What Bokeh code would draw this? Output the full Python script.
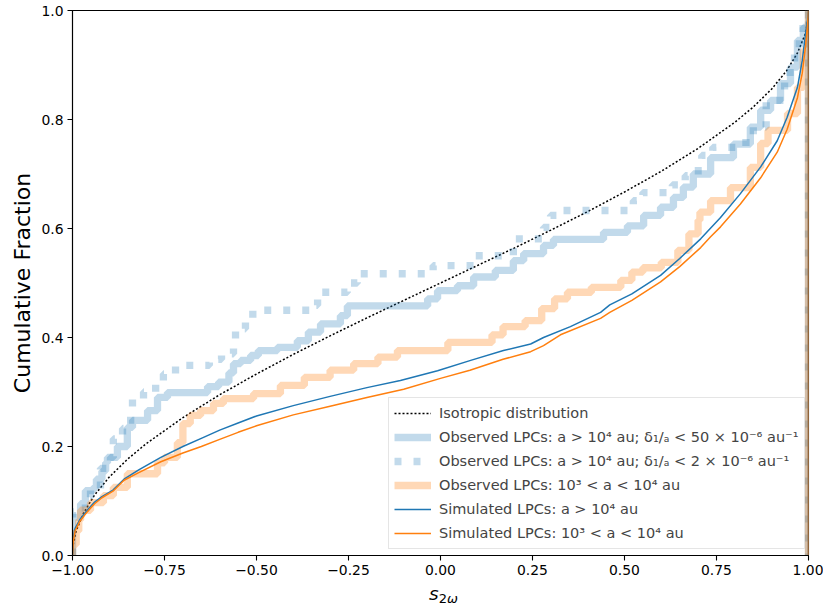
from bokeh.plotting import figure
from bokeh.models import Legend, LegendItem, FixedTicker, Div
from bokeh.layouts import column
from bokeh.embed import file_html
from bokeh.resources import INLINE

# ---------------- data ----------------
x_ticks = [-1.0, -0.75, -0.5, -0.25, 0.0, 0.25, 0.5, 0.75, 1.0]
x_tick_labels = ["\u22121.00", "\u22120.75", "\u22120.50", "\u22120.25", "0.00", "0.25", "0.50", "0.75", "1.00"]
y_ticks = [0.0, 0.2, 0.4, 0.6, 0.8, 1.0]
y_tick_labels = ["0.0", "0.2", "0.4", "0.6", "0.8", "1.0"]

# isotropic distribution
iso_x = [-0.998, -0.99, -0.97, -0.94, -0.9, -0.85, -0.8, -0.7, -0.6, -0.5, -0.4, -0.3, -0.2, -0.1, 0.0,
         0.1, 0.2, 0.3, 0.4, 0.5, 0.6, 0.7, 0.8, 0.85, 0.9, 0.94, 0.97, 0.99, 0.998]
iso_y = [0.02, 0.045, 0.078, 0.111, 0.144, 0.177, 0.205, 0.253, 0.295, 0.333, 0.369, 0.403, 0.436, 0.468, 0.5,
         0.532, 0.564, 0.597, 0.631, 0.667, 0.705, 0.747, 0.795, 0.823, 0.856, 0.889, 0.922, 0.955, 0.98]

# observed LPCs a > 1e4 au, delta < 50e-6 (step edges, value after edge)
obs50_x = [-1.0, -1.0, -0.978, -0.965, -0.943, -0.935, -0.92, -0.91, -0.905, -0.878, -0.851, -0.837, -0.796,
           -0.769, -0.742, -0.633, -0.603, -0.575, -0.5625, -0.543, -0.516, -0.495, -0.443, -0.389, -0.359,
           -0.326, -0.272, -0.253, -0.035, -0.008, 0.046, 0.09, 0.149, 0.198, 0.226, 0.28, 0.307, 0.443,
           0.508, 0.552, 0.598, 0.633, 0.66, 0.687, 0.734, 0.796, 0.842, 0.87, 0.897, 0.924, 0.951, 0.970,
           0.986, 1.0, 1.0]
obs50_y = [0.0, 0.07, 0.095, 0.119, 0.125, 0.14, 0.155, 0.17, 0.18, 0.2, 0.235, 0.248, 0.266,
           0.29, 0.299, 0.31, 0.318, 0.335, 0.352, 0.358, 0.367, 0.376, 0.382, 0.394, 0.41,
           0.425, 0.44, 0.458, 0.471, 0.486, 0.495, 0.511, 0.523, 0.541, 0.554, 0.569, 0.58, 0.593,
           0.605, 0.624, 0.639, 0.657, 0.676, 0.70, 0.73, 0.755, 0.786, 0.817, 0.835, 0.866, 0.896, 0.945,
           0.969, 1.0, 0.0]

# observed LPCs a > 1e4 au, delta < 2e-6
obs2_x = [-1.0, -1.0, -0.965, -0.951, -0.924, -0.897, -0.889, -0.864, -0.842, -0.837, -0.807, -0.774, -0.753,
          -0.72, -0.628, -0.595, -0.5625, -0.557, -0.53, -0.51, -0.353, -0.334, -0.253, -0.226, -0.02,
          0.09, 0.198, 0.28, 0.299, 0.32, 0.524, 0.55, 0.63, 0.665, 0.69, 0.71, 0.74, 0.83, 0.85, 0.885,
          0.935, 0.95, 0.962, 0.975, 0.985, 1.0, 1.0]
obs2_y = [0.0, 0.08, 0.107, 0.12, 0.16, 0.18, 0.214, 0.233, 0.257, 0.288, 0.3, 0.315, 0.333,
          0.349, 0.36, 0.37, 0.382, 0.416, 0.433, 0.45, 0.459, 0.483, 0.5, 0.517, 0.532,
          0.55, 0.581, 0.602, 0.624, 0.633, 0.651, 0.666, 0.68, 0.697, 0.706, 0.734, 0.749, 0.767, 0.786, 0.835,
          0.872, 0.90, 0.932, 0.958, 0.98, 1.0, 0.0]

# observed LPCs 1e3 < a < 1e4 au
obs34_x = [-1.0, -1.0, -0.99, -0.983, -0.978, -0.951, -0.916, -0.889, -0.851, -0.769, -0.75, -0.715, -0.70,
           -0.68, -0.652, -0.617, -0.59, -0.508, -0.435, -0.37, -0.30, -0.236, -0.17, -0.117, 0.02, 0.14,
           0.17, 0.23, 0.275, 0.31, 0.345, 0.41, 0.49, 0.52, 0.55, 0.60, 0.645, 0.675, 0.70, 0.705, 0.734,
           0.788, 0.842, 0.87, 0.89, 0.943, 0.97, 0.986, 1.0, 1.0]
obs34_y = [0.0, 0.02, 0.045, 0.065, 0.083, 0.097, 0.11, 0.125, 0.15, 0.17, 0.18, 0.207, 0.242,
           0.257, 0.266, 0.279, 0.288, 0.297, 0.312, 0.327, 0.34, 0.352, 0.364, 0.376, 0.391, 0.405,
           0.42, 0.431, 0.453, 0.471, 0.483, 0.492, 0.505, 0.52, 0.528, 0.538, 0.56, 0.59, 0.615, 0.63, 0.651,
           0.675, 0.712, 0.756, 0.78, 0.811, 0.859, 0.927, 1.0, 0.0]

# simulated LPCs a > 1e4 au
sim4_x = [-1.0, -0.998, -0.993, -0.98, -0.96, -0.94, -0.92, -0.89, -0.86, -0.82, -0.76, -0.70, -0.65, -0.60,
          -0.55, -0.50, -0.40, -0.30, -0.20, -0.109, -0.008, 0.082, 0.171, 0.245, 0.28, 0.353, 0.435, 0.46,
          0.52, 0.598, 0.65, 0.707, 0.761, 0.815, 0.87, 0.915, 0.942, 0.97, 0.983, 0.992, 0.997, 1.0, 1.0]
sim4_y = [0.0, 0.03, 0.05, 0.066, 0.083, 0.098, 0.108, 0.12, 0.14, 0.157, 0.18, 0.2, 0.215, 0.23,
          0.243, 0.256, 0.275, 0.292, 0.308, 0.321, 0.339, 0.358, 0.376, 0.388, 0.40, 0.42, 0.446, 0.46,
          0.48, 0.514, 0.545, 0.581, 0.62, 0.664, 0.713, 0.761, 0.804, 0.859, 0.908, 0.957, 0.982, 1.0, 0.0]

# simulated LPCs 1e3 < a < 1e4 au
sim34_x = [-1.0, -0.998, -0.993, -0.98, -0.96, -0.94, -0.92, -0.89, -0.86, -0.82, -0.76, -0.70, -0.65, -0.60,
           -0.55, -0.50, -0.40, -0.30, -0.20, -0.10, 0.0, 0.08, 0.17, 0.245, 0.28, 0.326, 0.435, 0.46,
           0.52, 0.598, 0.65, 0.707, 0.734, 0.761, 0.815, 0.87, 0.915, 0.942, 0.97, 0.983, 0.992, 0.997, 1.0, 1.0]
sim34_y = [0.0, 0.025, 0.045, 0.063, 0.08, 0.095, 0.106, 0.118, 0.138, 0.152, 0.172, 0.188, 0.2, 0.213,
           0.226, 0.238, 0.258, 0.274, 0.29, 0.305, 0.325, 0.34, 0.36, 0.374, 0.385, 0.405, 0.435, 0.446,
           0.468, 0.502, 0.53, 0.565, 0.585, 0.603, 0.645, 0.693, 0.74, 0.782, 0.84, 0.885, 0.935, 0.97, 1.0, 0.0]

labels = [
    "Isotropic distribution",
    "Observed LPCs: a > 10\u2074 au; \u03b4\u2081/\u2090 < 50 \u00d7 10\u207b\u2076 au\u207b\u00b9",
    "Observed LPCs: a > 10\u2074 au; \u03b4\u2081/\u2090 < 2 \u00d7 10\u207b\u2076 au\u207b\u00b9",
    "Observed LPCs: 10\u00b3 < a < 10\u2074 au",
    "Simulated LPCs: a > 10\u2074 au",
    "Simulated LPCs: 10\u00b3 < a < 10\u2074 au",
]

BLUE = "#1f77b4"
ORANGE = "#ff7f0e"
FONT = "DejaVu Sans"

# ---------------- figure ----------------
p = figure(frame_width=736, frame_height=545, x_range=(-1, 1), y_range=(0, 1),
           output_backend="svg", toolbar_location=None,
           min_border_left=72, min_border_right=15, min_border_top=10, min_border_bottom=26,
           background_fill_color="white", border_fill_color="white")
p.grid.visible = False
p.outline_line_color = "black"
p.outline_line_width = 1.1

p.xaxis.ticker = FixedTicker(ticks=x_ticks)
p.yaxis.ticker = FixedTicker(ticks=y_ticks)
p.xaxis.major_label_overrides = {t: l for t, l in zip(x_ticks, x_tick_labels)}
p.yaxis.major_label_overrides = {t: l for t, l in zip(y_ticks, y_tick_labels)}
for ax in (p.xaxis[0], p.yaxis[0]):
    ax.major_label_text_font = FONT
    ax.major_label_text_font_size = "13.9px"
    ax.major_label_text_color = "black"
    ax.major_tick_out = 5
    ax.major_tick_in = 0
    ax.minor_tick_out = 0
    ax.minor_tick_in = 0
    ax.major_tick_line_color = "black"
    ax.major_tick_line_width = 1.1
    ax.axis_line_color = "black"
    ax.axis_line_width = 1.1
    ax.major_label_standoff = 4

p.yaxis.axis_label = "Cumulative Fraction"
p.yaxis.axis_label_text_font = FONT
p.yaxis.axis_label_text_font_size = "22px"
p.yaxis.axis_label_text_font_style = "normal"
p.yaxis.axis_label_text_color = "black"
p.yaxis.axis_label_standoff = 3

# glyphs
r_iso = p.line(iso_x, iso_y, line_color="black", line_width=1.5, line_dash="2 2")
r_o50 = p.step(obs50_x, obs50_y, mode="after", line_color=BLUE, line_alpha=0.27, line_width=7.3)
r_o2 = p.step(obs2_x, obs2_y, mode="after", line_color=BLUE, line_alpha=0.27, line_width=7.3,
              line_dash="7 12")
r_o34 = p.step(obs34_x, obs34_y, mode="after", line_color=ORANGE, line_alpha=0.3, line_width=7.3)
r_s4 = p.line(sim4_x, sim4_y, line_color=BLUE, line_width=1.5)
r_s34 = p.line(sim34_x, sim34_y, line_color=ORANGE, line_width=1.5)

legend = Legend(items=[LegendItem(label=l, renderers=[r]) for l, r in
                       zip(labels, [r_iso, r_o50, r_o2, r_o34, r_s4, r_s34])],
                location=(316, 6), label_text_font=FONT, label_text_font_size="14.5px",
                glyph_width=37, glyph_height=20, label_height=20, label_standoff=8,
                spacing=4, padding=5, margin=0,
                border_line_color="#cccccc", border_line_width=1,
                background_fill_color="white", background_fill_alpha=0.8)
p.add_layout(legend)

# x axis label: s with subscript 2omega (HTML text below the figure)
xlabel = Div(
    text=('<div style="margin-left:424px; margin-top:-3px; font-family:\'DejaVu Sans\'; font-size:18.5px; '
          'line-height:21px; white-space:nowrap; color:black;">'
          '<i>s</i><span style="font-size:13px; vertical-align:-3px;">2<i>\u03c9</i></span></div>'),
    width=823, height=26)

layout = column(p, xlabel, spacing=0)
open("out.html", "w").write(file_html(layout, INLINE))
